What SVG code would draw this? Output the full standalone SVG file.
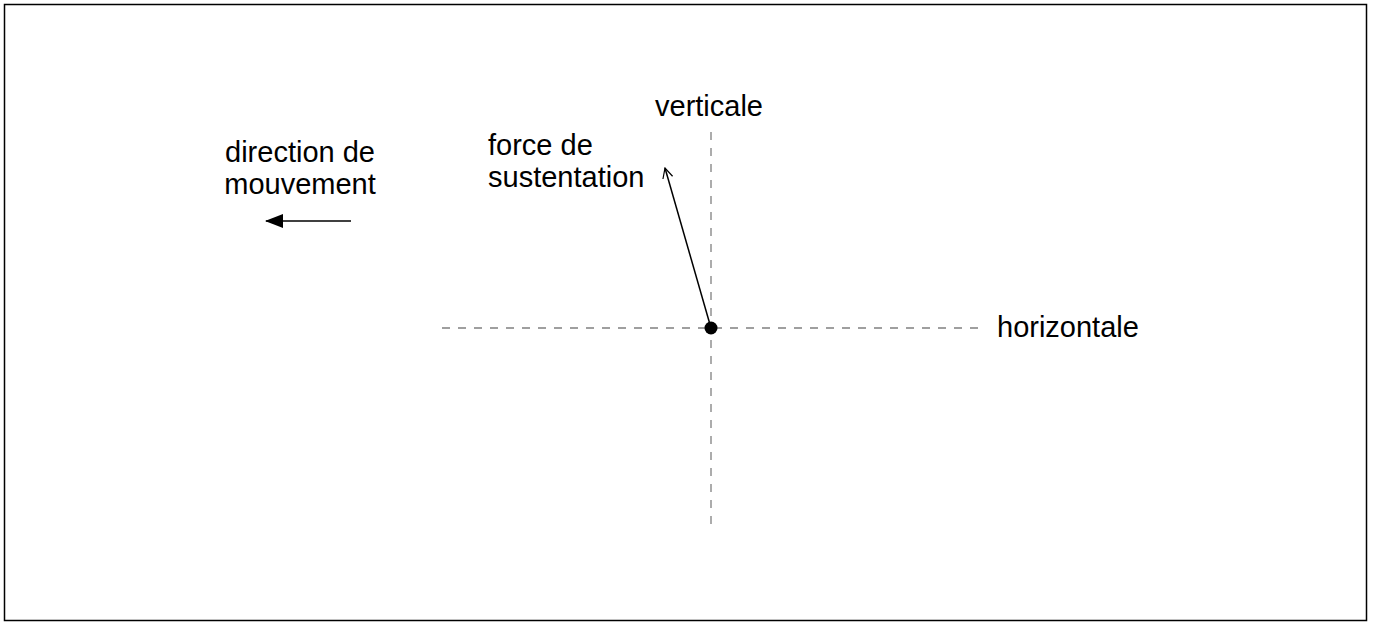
<svg xmlns="http://www.w3.org/2000/svg" width="1373" height="623" viewBox="0 0 1373 623">
<style>
.t{font-family:"Liberation Sans",Arial,sans-serif;font-size:29px;fill:#000}
.d{stroke:#808080;stroke-width:1.3;stroke-dasharray:8 8;fill:none}
</style>
<defs>
<marker id="fill" markerWidth="18" markerHeight="14" refX="17" refY="7" orient="auto" markerUnits="userSpaceOnUse"><path d="M0,0 L18,7 L0,14 z" fill="#000"/></marker>
<marker id="open" markerWidth="12" markerHeight="12" refX="11" refY="6" orient="auto" markerUnits="userSpaceOnUse"><path d="M1,1 L11,6 L1,11" fill="none" stroke="#000" stroke-width="1.2"/></marker>
</defs>
<rect x="4.5" y="4.5" width="1362" height="616" fill="#fff" stroke="#000" stroke-width="1.5"/>
<g id="axes">
<line class="d" x1="442" y1="328" x2="980" y2="328"/>
<line class="d" x1="711" y1="132" x2="711" y2="527"/>
</g>
<g id="connectors">
<line x1="351" y1="221" x2="266" y2="221" stroke="#000" stroke-width="1.5" marker-end="url(#fill)"/>
<line x1="711" y1="328" x2="665" y2="168" stroke="#000" stroke-width="1.5" marker-end="url(#open)"/>
</g>
<g id="point"><circle cx="711" cy="328" r="6.5" fill="#000"/></g>
<g id="labels">
<text class="t" x="655" y="116">verticale</text>
<text class="t" x="488" y="155">force de</text>
<text class="t" x="488" y="187">sustentation</text>
<text class="t" x="300" y="162" text-anchor="middle">direction de</text>
<text class="t" x="300" y="194" text-anchor="middle">mouvement</text>
<text class="t" x="997" y="337">horizontale</text>
</g>
</svg>
